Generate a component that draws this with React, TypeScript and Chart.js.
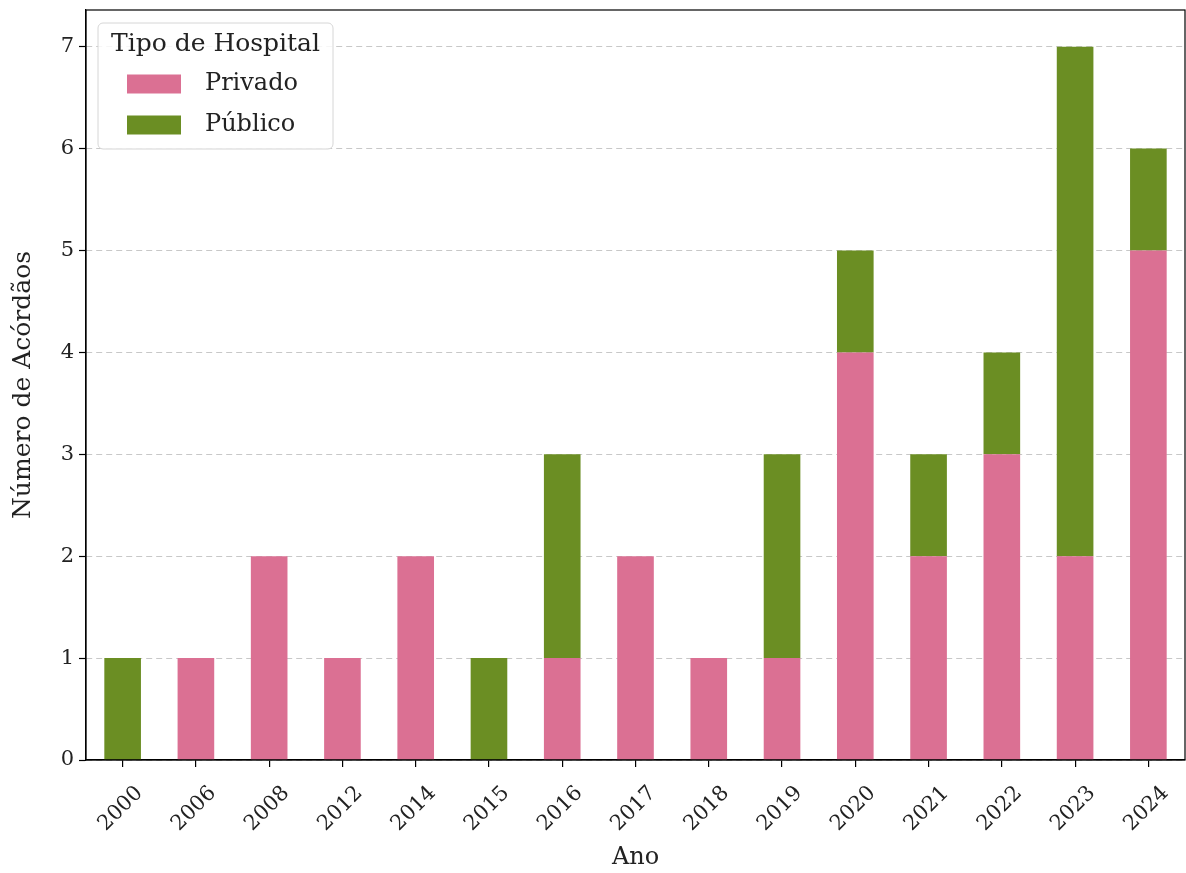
import React, { useEffect, useRef } from "react";
import { Chart, registerables } from "chart.js";

Chart.register(...registerables);

const years = ["2000", "2006", "2008", "2012", "2014", "2015", "2016", "2017", "2018", "2019", "2020", "2021", "2022", "2023", "2024"];
const privado = [0, 1, 2, 1, 2, 0, 1, 2, 1, 1, 4, 2, 3, 2, 5];
const publico = [1, 0, 0, 0, 0, 1, 2, 0, 0, 2, 1, 1, 1, 5, 1];
const seriesNames = ["Privado", "Público"];
const seriesColors = ["#DB7093", "#6B8E23"];
const legendTitle = "Tipo de Hospital";
const xTitle = "Ano";
const yTitle = "Número de Acórdãos";

const FONT = "'DejaVu Serif', serif";

const framePlugin = {
  id: "frame",
  afterDatasetsDraw(chart: any) {
    const { ctx, chartArea } = chart;
    ctx.save();
    ctx.strokeStyle = "#000";
    ctx.lineWidth = 1.2;
    ctx.strokeRect(chartArea.left, chartArea.top, chartArea.right - chartArea.left, chartArea.bottom - chartArea.top);
    ctx.restore();
  },
};

const legendPlugin = {
  id: "insideLegend",
  afterDraw(chart: any) {
    const { ctx, chartArea } = chart;
    const x = chartArea.left + 12;
    const y = chartArea.top + 13;
    const w = 235;
    const h = 126;
    ctx.save();
    ctx.beginPath();
    ctx.roundRect(x, y, w, h, 5);
    ctx.fillStyle = "rgba(255,255,255,0.85)";
    ctx.fill();
    ctx.strokeStyle = "#d6d6d6";
    ctx.lineWidth = 1;
    ctx.stroke();
    ctx.fillStyle = "#222";
    ctx.font = `25px ${FONT}`;
    ctx.textAlign = "center";
    ctx.textBaseline = "middle";
    ctx.fillText(legendTitle, x + w / 2, y + 21);
    ctx.font = `24px ${FONT}`;
    chart.data.datasets.forEach((ds: any, i: number) => {
      const cy = y + 61 + i * 41;
      ctx.fillStyle = ds.backgroundColor;
      ctx.fillRect(x + 29, cy - 9.5, 54, 19);
      ctx.fillStyle = "#222";
      ctx.textAlign = "left";
      ctx.fillText(ds.label, x + 107, cy);
    });
    ctx.restore();
  },
};

const isInt = (c: any) => c && c.tick && Number.isInteger(c.tick.value);

export default function App() {
  const ref = useRef<HTMLCanvasElement>(null);
  useEffect(() => {
    if (!ref.current) return;
    const chart = new Chart(ref.current, {
      type: "bar",
      data: {
        labels: years,
        datasets: [
          { label: seriesNames[0], data: privado, backgroundColor: seriesColors[0], borderWidth: 0 },
          { label: seriesNames[1], data: publico, backgroundColor: seriesColors[1], borderWidth: 0 },
        ],
      },
      options: {
        animation: false,
        responsive: false,
        maintainAspectRatio: false,
        layout: { padding: { top: 10, right: 1, left: 0, bottom: 0 } },
        plugins: { legend: { display: false }, tooltip: { enabled: false } },
        datasets: { bar: { categoryPercentage: 1, barPercentage: 0.5 } },
        scales: {
          x: {
            stacked: true,
            grid: { offset: false, drawOnChartArea: false, drawTicks: true, tickLength: 7, color: "#000", lineWidth: 1.2 },
            border: { display: true, color: "#000", width: 1.2 },
            ticks: {
              color: "#222",
              font: { family: FONT, size: 21 },
              minRotation: 45,
              maxRotation: 45,
              padding: 14,
              labelOffset: 17,
              autoSkip: false,
            },
            title: { display: true, text: xTitle, color: "#222", font: { family: FONT, size: 24 }, padding: { top: 0, bottom: 1 } },
            afterFit(scale: any) {
              scale.height = 113;
              scale.paddingLeft = 0;
              scale.paddingRight = 0;
            },
          },
          y: {
            stacked: true,
            min: 0,
            max: 7.36,
            grid: {
              color: (c: any) => (isInt(c) ? "rgba(176,176,176,0.7)" : "rgba(0,0,0,0)"),
              lineWidth: 1,
              tickLength: 7,
              tickColor: (c: any) => (isInt(c) ? "#000" : "rgba(0,0,0,0)"),
              tickWidth: 1.2,
            },
            border: { display: true, color: "#000", width: 1.2, dash: [6, 4] },
            ticks: {
              stepSize: 1,
              color: "#222",
              font: { family: FONT, size: 21 },
              padding: 5,
              callback: (v: any) => (Number.isInteger(v) ? String(v) : ""),
            },
            title: { display: true, text: yTitle, color: "#222", font: { family: FONT, size: 25 }, padding: { top: 8, bottom: 0 } },
            afterFit(scale: any) {
              scale.width = 86;
              scale.paddingTop = 0;
              scale.paddingBottom = 0;
            },
          },
        },
      },
      plugins: [framePlugin, legendPlugin],
    });
    return () => chart.destroy();
  }, []);
  return (
    <div style={{ position: "absolute", left: 0, top: 0, width: 1186, height: 873, background: "#fff" }}>
      <canvas ref={ref} width={1186} height={873} style={{ width: 1186, height: 873, display: "block" }} />
    </div>
  );
}
